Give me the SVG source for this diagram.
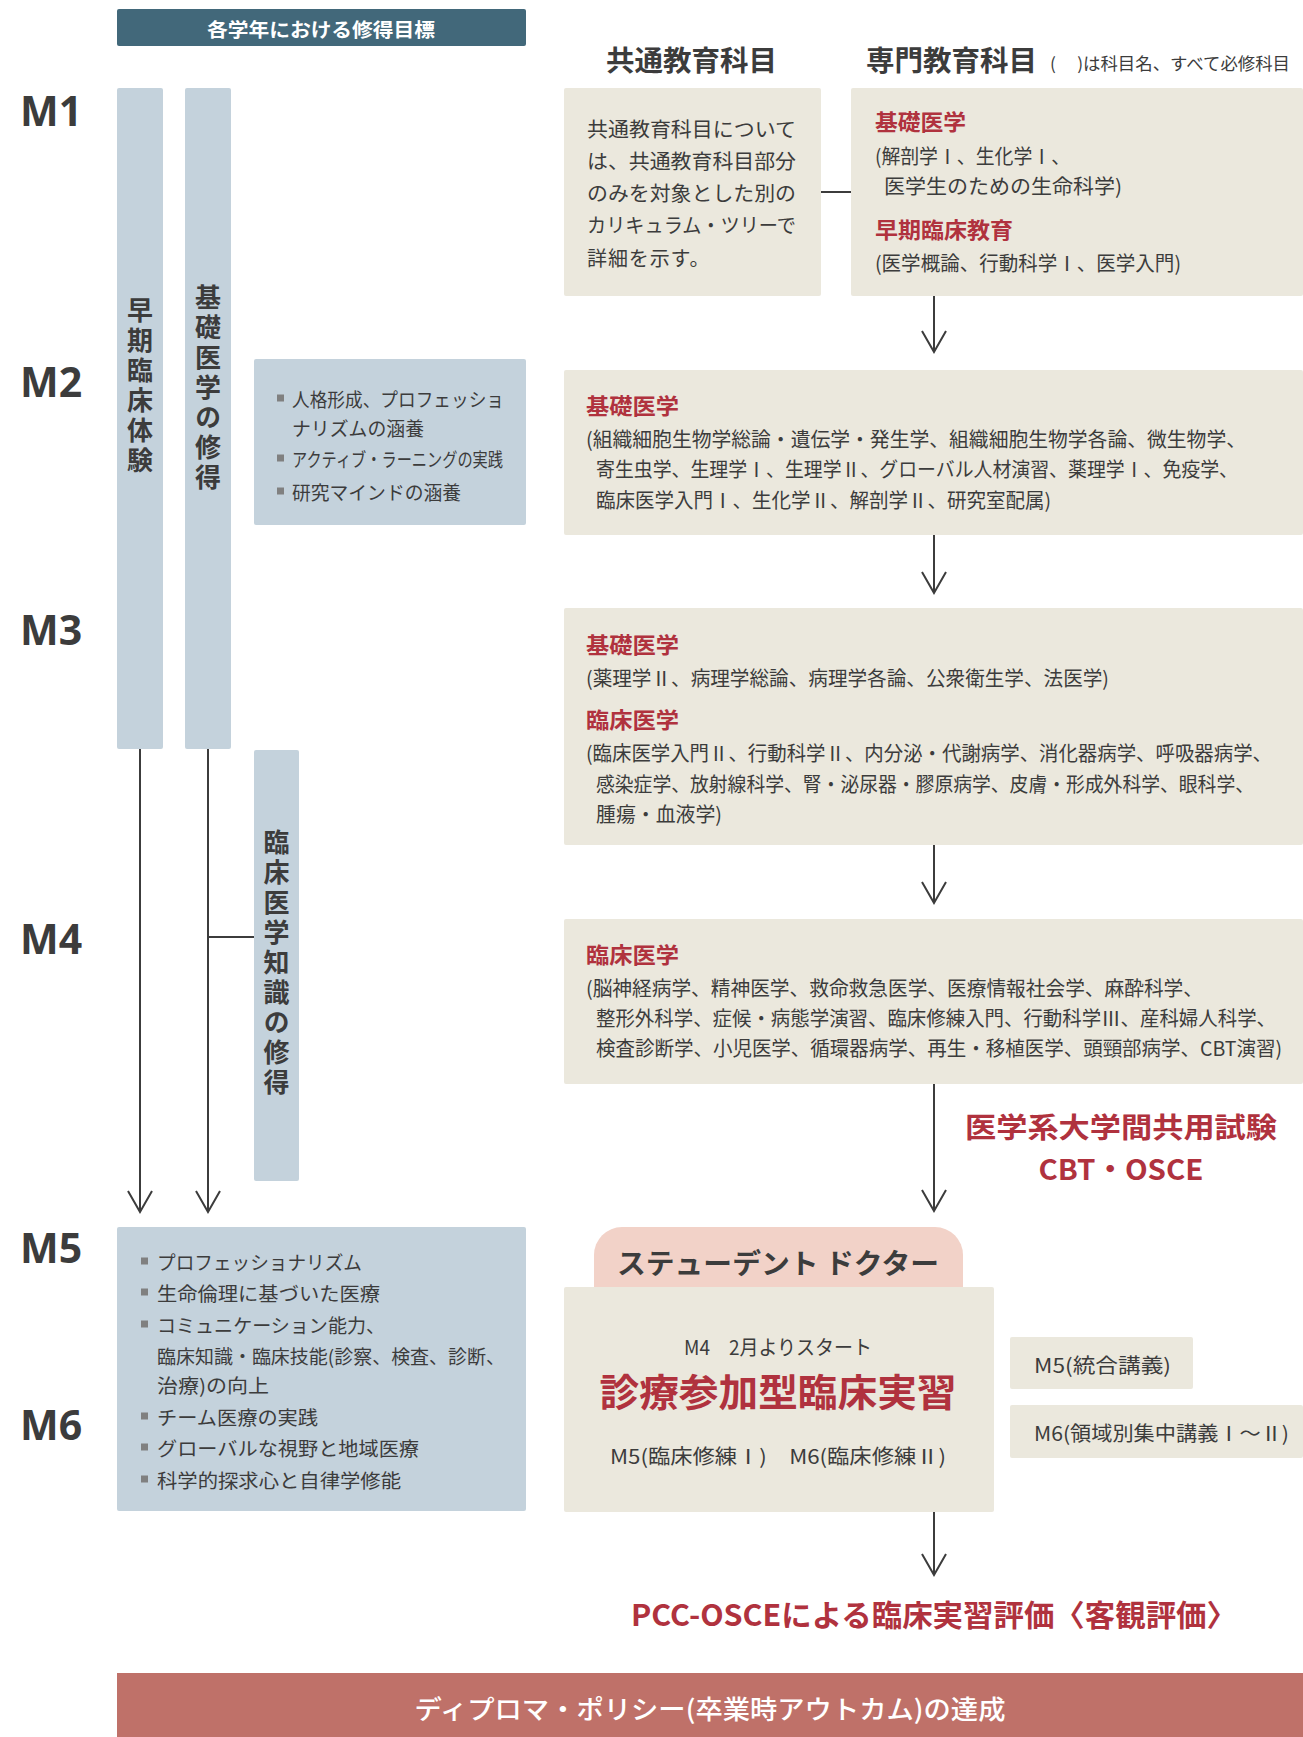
<svg xmlns="http://www.w3.org/2000/svg" width="1303" height="1737" viewBox="0 0 1303 1737">
<defs>
<style>
.t{font-family:"Noto Sans CJK JP","Noto Sans",sans-serif;fill:#3c3c3c;dominant-baseline:central}
.b20{font-size:20px}
.b19{font-size:19px}
.red{fill:#b0323e;font-weight:700}
.h22{font-size:22px}
.bold{font-weight:700}
.w{fill:#ffffff}
.mlab{font-family:"Noto Sans","Open Sans",sans-serif;font-weight:700;font-size:41px;fill:#3c3c3c;dominant-baseline:central}
.vt{font-family:"Noto Sans CJK JP",sans-serif;font-weight:700;font-size:26px;fill:#3c3c3c;writing-mode:vertical-rl;letter-spacing:4px}
.tan{fill:#ebe8dd}
.blue{fill:#c4d2dc}
.ln{stroke:#3c3c3c;stroke-width:2;fill:none}
.bul{fill:#808080}
</style>
<marker id="arr" markerUnits="userSpaceOnUse" markerWidth="30" markerHeight="30" viewBox="-25 -15 30 30" refX="0" refY="0" orient="auto">
<path d="M-21,-12 L0,0 L-21,12" fill="none" stroke="#3c3c3c" stroke-width="2"/>
</marker>
</defs>
<rect width="1303" height="1737" fill="#ffffff"/>

<g id="header">
<rect x="117" y="9" width="409" height="37" rx="2" fill="#42687a"/>
<text class="t bold w" x="321" y="28" font-size="19" text-anchor="middle" textLength="228" lengthAdjust="spacingAndGlyphs">各学年における修得目標</text>
</g>

<g id="col-headings">
<text class="t bold" x="606" y="59" font-size="28" textLength="171" lengthAdjust="spacingAndGlyphs">共通教育科目</text>
<text class="t bold" x="866" y="59" font-size="28" textLength="171" lengthAdjust="spacingAndGlyphs">専門教育科目</text>
<text class="t" x="1050" y="62" font-size="17" textLength="240" lengthAdjust="spacingAndGlyphs">(　 )は科目名、すべて必修科目</text>
</g>

<g id="year-labels">
<text class="mlab" x="20" y="110">M1</text>
<text class="mlab" x="20" y="381">M2</text>
<text class="mlab" x="20" y="629">M3</text>
<text class="mlab" x="20" y="938">M4</text>
<text class="mlab" x="20" y="1247">M5</text>
<text class="mlab" x="20" y="1424">M6</text>
</g>

<g id="bar-early-clinical">
<rect class="blue" x="117" y="88" width="46" height="661" rx="2"/>
<text class="vt" x="140" y="297">早期臨床体験</text>
</g>
<g id="bar-basic-medicine">
<rect class="blue" x="185" y="88" width="46" height="661" rx="2"/>
<text class="vt" x="208" y="284">基礎医学の修得</text>
</g>
<g id="bar-clinical-knowledge">
<rect class="blue" x="254" y="750" width="45" height="431" rx="2"/>
<text class="vt" x="276.5" y="829">臨床医学知識の修得</text>
</g>

<g id="goals-m2">
<rect class="blue" x="254" y="359" width="272" height="166" rx="2"/>
<rect class="bul" x="277" y="394.5" width="7" height="7"/>
<text class="t b19" x="292" y="398" textLength="212" lengthAdjust="spacingAndGlyphs">人格形成、プロフェッショ</text>
<text class="t b19" x="292" y="427" textLength="132" lengthAdjust="spacingAndGlyphs">ナリズムの涵養</text>
<rect class="bul" x="277" y="454.5" width="7" height="7"/>
<text class="t b19" x="292" y="458" textLength="211" lengthAdjust="spacingAndGlyphs">アクティブ・ラーニングの実践</text>
<rect class="bul" x="277" y="487.5" width="7" height="7"/>
<text class="t b19" x="292" y="491" textLength="169" lengthAdjust="spacingAndGlyphs">研究マインドの涵養</text>
</g>

<g id="common-edu">
<rect class="tan" x="564" y="88" width="257" height="208" rx="2"/>
<text class="t b20" x="587" y="128" textLength="209" lengthAdjust="spacingAndGlyphs">共通教育科目について</text>
<text class="t b20" x="587" y="160" textLength="209" lengthAdjust="spacingAndGlyphs">は、共通教育科目部分</text>
<text class="t b20" x="587" y="192" textLength="209" lengthAdjust="spacingAndGlyphs">のみを対象とした別の</text>
<text class="t b20" x="587" y="224" textLength="209" lengthAdjust="spacingAndGlyphs">カリキュラム・ツリーで</text>
<text class="t b20" x="587" y="257" letter-spacing="0.9">詳細を示す。</text>
</g>

<g id="spec-m1">
<rect class="tan" x="851" y="88" width="452" height="208" rx="2"/>
<text class="t red h22" x="875" y="120" textLength="91" lengthAdjust="spacingAndGlyphs">基礎医学</text>
<text class="t b20" x="875" y="155" textLength="195" lengthAdjust="spacingAndGlyphs">(解剖学Ⅰ、生化学Ⅰ、</text>
<text class="t b20" x="884" y="185" textLength="238" lengthAdjust="spacingAndGlyphs">医学生のための生命科学)</text>
<text class="t red h22" x="875" y="228" textLength="138" lengthAdjust="spacingAndGlyphs">早期臨床教育</text>
<text class="t b20" x="875" y="262" textLength="306" lengthAdjust="spacingAndGlyphs">(医学概論、行動科学Ⅰ、医学入門)</text>
</g>

<g id="spec-m2">
<rect class="tan" x="564" y="370" width="739" height="165" rx="2"/>
<text class="t red h22" x="586" y="404" textLength="93" lengthAdjust="spacingAndGlyphs">基礎医学</text>
<text class="t b20" x="586" y="438" textLength="660" lengthAdjust="spacingAndGlyphs">(組織細胞生物学総論・遺伝学・発生学、組織細胞生物学各論、微生物学、</text>
<text class="t b20" x="596" y="468" textLength="642" lengthAdjust="spacingAndGlyphs">寄生虫学、生理学Ⅰ、生理学Ⅱ、グローバル人材演習、薬理学Ⅰ、免疫学、</text>
<text class="t b20" x="596" y="499" textLength="455" lengthAdjust="spacingAndGlyphs">臨床医学入門Ⅰ、生化学Ⅱ、解剖学Ⅱ、研究室配属)</text>
</g>

<g id="spec-m3">
<rect class="tan" x="564" y="608" width="739" height="237" rx="2"/>
<text class="t red h22" x="586" y="643" textLength="93" lengthAdjust="spacingAndGlyphs">基礎医学</text>
<text class="t b20" x="586" y="677" textLength="523" lengthAdjust="spacingAndGlyphs">(薬理学Ⅱ、病理学総論、病理学各論、公衆衛生学、法医学)</text>
<text class="t red h22" x="586" y="718" textLength="93" lengthAdjust="spacingAndGlyphs">臨床医学</text>
<text class="t b20" x="586" y="752" textLength="686" lengthAdjust="spacingAndGlyphs">(臨床医学入門Ⅱ、行動科学Ⅱ、内分泌・代謝病学、消化器病学、呼吸器病学、</text>
<text class="t b20" x="596" y="783" textLength="658" lengthAdjust="spacingAndGlyphs">感染症学、放射線科学、腎・泌尿器・膠原病学、皮膚・形成外科学、眼科学、</text>
<text class="t b20" x="596" y="813" textLength="126" lengthAdjust="spacingAndGlyphs">腫瘍・血液学)</text>
</g>

<g id="spec-m4">
<rect class="tan" x="564" y="919" width="739" height="165" rx="2"/>
<text class="t red h22" x="586" y="953" textLength="93" lengthAdjust="spacingAndGlyphs">臨床医学</text>
<text class="t b20" x="586" y="987" textLength="617" lengthAdjust="spacingAndGlyphs">(脳神経病学、精神医学、救命救急医学、医療情報社会学、麻酔科学、</text>
<text class="t b20" x="596" y="1017" textLength="680" lengthAdjust="spacingAndGlyphs">整形外科学、症候・病態学演習、臨床修練入門、行動科学Ⅲ、産科婦人科学、</text>
<text class="t b20" x="596" y="1047" textLength="686" lengthAdjust="spacingAndGlyphs">検査診断学、小児医学、循環器病学、再生・移植医学、頭頸部病学、CBT演習)</text>
</g>

<g id="exam-label">
<text class="t red" x="1121" y="1126" font-size="28" text-anchor="middle" textLength="312" lengthAdjust="spacingAndGlyphs">医学系大学間共用試験</text>
<text class="t red" x="1121" y="1168" font-size="28" text-anchor="middle" textLength="165" lengthAdjust="spacingAndGlyphs">CBT・OSCE</text>
</g>

<g id="goals-m5m6">
<rect class="blue" x="117" y="1227" width="409" height="284" rx="2"/>
<rect class="bul" x="141" y="1257.5" width="7" height="7"/>
<text class="t b19" x="157" y="1261" textLength="205" lengthAdjust="spacingAndGlyphs">プロフェッショナリズム</text>
<rect class="bul" x="141" y="1288.5" width="7" height="7"/>
<text class="t b19" x="157" y="1292" textLength="223" lengthAdjust="spacingAndGlyphs">生命倫理に基づいた医療</text>
<rect class="bul" x="141" y="1320.5" width="7" height="7"/>
<text class="t b19" x="157" y="1324" textLength="228" lengthAdjust="spacingAndGlyphs">コミュニケーション能力、</text>
<text class="t b19" x="157" y="1355" textLength="348" lengthAdjust="spacingAndGlyphs">臨床知識・臨床技能(診察、検査、診断、</text>
<text class="t b19" x="157" y="1384" textLength="112" lengthAdjust="spacingAndGlyphs">治療)の向上</text>
<rect class="bul" x="141" y="1412.5" width="7" height="7"/>
<text class="t b19" x="157" y="1416" textLength="161" lengthAdjust="spacingAndGlyphs">チーム医療の実践</text>
<rect class="bul" x="141" y="1443.5" width="7" height="7"/>
<text class="t b19" x="157" y="1447" textLength="262" lengthAdjust="spacingAndGlyphs">グローバルな視野と地域医療</text>
<rect class="bul" x="141" y="1475.5" width="7" height="7"/>
<text class="t b19" x="157" y="1479" textLength="244" lengthAdjust="spacingAndGlyphs">科学的探求心と自律学修能</text>
</g>

<g id="student-doctor">
<path d="M594,1287 V1255 A28,28 0 0 1 622,1227 H935 A28,28 0 0 1 963,1255 V1287 Z" fill="#f2d2c8"/>
<text class="t bold" x="778" y="1262" font-size="28" text-anchor="middle" textLength="322" lengthAdjust="spacingAndGlyphs">ステューデント ドクター</text>
</g>

<g id="clinical-practice">
<rect class="tan" x="564" y="1287" width="430" height="225" rx="2"/>
<text class="t b20" x="778" y="1346" text-anchor="middle" textLength="188" lengthAdjust="spacingAndGlyphs">M4　2月よりスタート</text>
<text class="t red" x="778" y="1389" font-size="38" text-anchor="middle" textLength="357" lengthAdjust="spacingAndGlyphs">診療参加型臨床実習</text>
<text class="t b20" x="778" y="1455" text-anchor="middle" textLength="336" lengthAdjust="spacingAndGlyphs">M5(臨床修練Ⅰ)　M6(臨床修練Ⅱ)</text>
</g>

<g id="lecture-m5">
<rect class="tan" x="1010" y="1337" width="183" height="52" rx="2"/>
<text class="t b20" x="1034" y="1364" textLength="137" lengthAdjust="spacingAndGlyphs">M5(統合講義)</text>
</g>
<g id="lecture-m6">
<rect class="tan" x="1010" y="1405" width="293" height="53" rx="2"/>
<text class="t b20" x="1034" y="1432" textLength="255" lengthAdjust="spacingAndGlyphs">M6(領域別集中講義Ⅰ～Ⅱ)</text>
</g>

<g id="pcc-osce">
<text class="t red" x="934" y="1613" font-size="30" text-anchor="middle" textLength="606" lengthAdjust="spacingAndGlyphs">PCC-OSCEによる臨床実習評価〈客観評価〉</text>
</g>

<g id="diploma-policy">
<rect x="117" y="1673" width="1186" height="64" fill="#bf7169"/>
<text class="t w" x="710" y="1707" font-size="26" font-weight="500" text-anchor="middle" textLength="591" lengthAdjust="spacingAndGlyphs">ディプロマ・ポリシー(卒業時アウトカム)の達成</text>
</g>

<g id="connectors">
<line class="ln" x1="821" y1="192" x2="851" y2="192"/>
<line class="ln" x1="934" y1="296" x2="934" y2="352" marker-end="url(#arr)"/>
<line class="ln" x1="934" y1="535" x2="934" y2="593" marker-end="url(#arr)"/>
<line class="ln" x1="934" y1="845" x2="934" y2="903" marker-end="url(#arr)"/>
<line class="ln" x1="934" y1="1084" x2="934" y2="1211" marker-end="url(#arr)"/>
<line class="ln" x1="934" y1="1512" x2="934" y2="1575" marker-end="url(#arr)"/>
<line class="ln" x1="140" y1="749" x2="140" y2="1212" marker-end="url(#arr)"/>
<line class="ln" x1="208" y1="749" x2="208" y2="1212" marker-end="url(#arr)"/>
<line class="ln" x1="208" y1="937" x2="254" y2="937"/>
</g>
</svg>
